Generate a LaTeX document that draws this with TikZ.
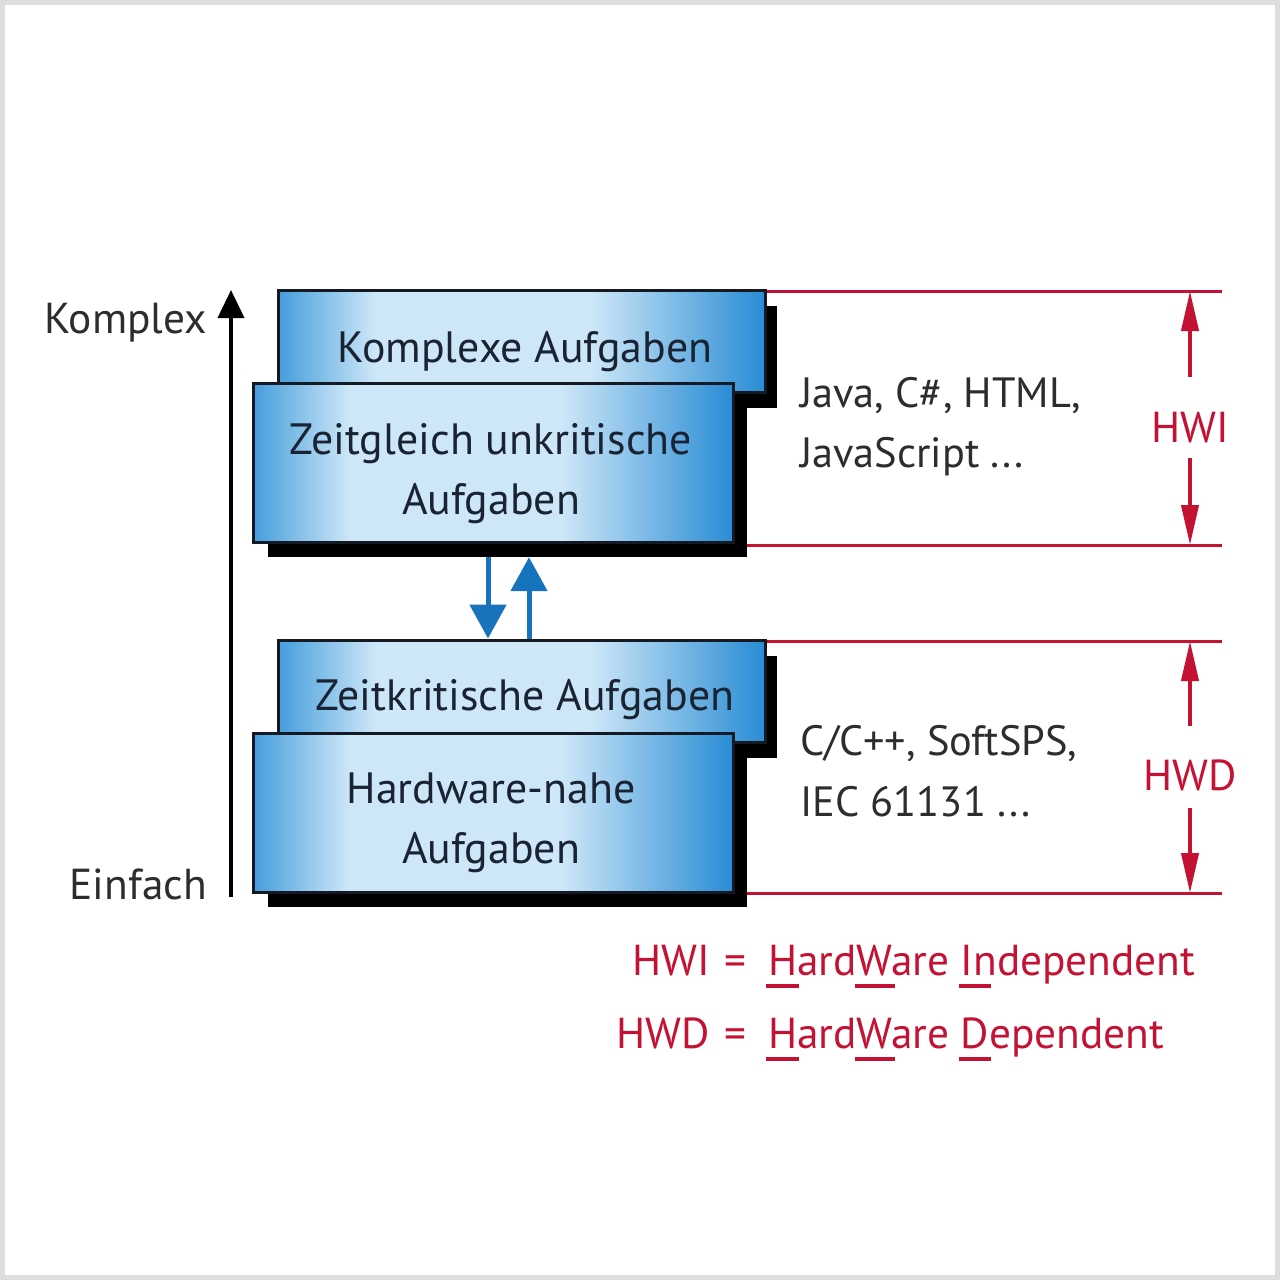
\documentclass[tikz,border=0pt]{standalone}
\usepackage{fontspec}
\setmainfont{PT Sans}
\usetikzlibrary{arrows.meta}
\definecolor{hwred}{RGB}{196,18,52}
\definecolor{txtdark}{RGB}{45,45,45}
\definecolor{boxtxt}{RGB}{25,35,50}
\definecolor{boxline}{RGB}{20,25,35}
\definecolor{bL}{RGB}{70,158,220}
\definecolor{bM}{RGB}{206,231,248}
\definecolor{bR}{RGB}{40,140,212}
\definecolor{arrblue}{RGB}{22,115,188}
\definecolor{framegray}{RGB}{222,222,222}
\pgfdeclarehorizontalshading{boxshade}{100bp}{color(0bp)=(bL); color(25bp)=(bL); color(35bp)=(bM); color(57bp)=(bM); color(75bp)=(bR); color(100bp)=(bR)}
\newlength\ulw
\newcommand\mku[2]{\settowidth\ulw{#1}\addtolength\ulw{0.1em}\leavevmode\rlap{\kern-0.05em\rule[-0.3em]{\ulw}{0.09em}}#2}
\tikzset{
  taskbox/.style={draw=boxline, line width=3bp, shading=boxshade, inner sep=0pt},
  shadowbox/.style={fill=black, draw=none, inner sep=0pt},
  boxlabel/.style={anchor=base, text=boxtxt, font=\fontsize{44}{52}\selectfont, inner sep=0pt},
  sidelabel/.style={anchor=base west, text=txtdark, font=\fontsize{42.5}{50}\selectfont, inner sep=0pt},
  axislabel/.style={anchor=base east, text=txtdark, font=\fontsize{43.5}{50}\selectfont, inner sep=0pt},
  redlabel/.style={anchor=base, text=hwred, font=\fontsize{43.5}{50}\selectfont, inner sep=0pt},
  redline/.style={draw=hwred, line width=3bp},
  redarrow/.style={draw=hwred, line width=4bp, -{Triangle[width=17bp,length=40bp]}},
  bluearrow/.style={draw=arrblue, line width=5bp, -{Triangle[width=36bp,length=34bp]}},
  axisarrow/.style={draw=black, line width=4bp, -{Triangle[width=26bp,length=28bp]}},
}
\begin{document}
\begin{tikzpicture}[x=1bp,y=-1bp]
\useasboundingbox (0,0) rectangle (1280,1280);
\fill[white] (0,0) rectangle (1280,1280);
\draw[framegray, line width=5bp] (2.5,2.5) rectangle (1277.5,1277.5);

% upper group
\node[shadowbox, minimum width=486bp, minimum height=102bp] (s1) at (534,357) {};
\node[taskbox, minimum width=486bp, minimum height=102bp] (b1) at (522,341) {};
\node[shadowbox, minimum width=479bp, minimum height=159bp] (s2) at (507.5,477.5) {};
\node[taskbox, minimum width=479bp, minimum height=159bp] (b2) at (493.5,462.5) {};
\node[boxlabel] (t1) at (525,362) {Komplexe Aufgaben};
\node[boxlabel] (t2a) at (491,454) {Zeitgleich unkritische};
\node[boxlabel] (t2b) at (491,514) {Aufgaben};

% lower group
\node[shadowbox, minimum width=486bp, minimum height=102bp] (s3) at (534,707) {};
\node[taskbox, minimum width=486bp, minimum height=102bp] (b3) at (522,691) {};
\node[shadowbox, minimum width=479bp, minimum height=159bp] (s4) at (507.5,827.5) {};
\node[taskbox, minimum width=479bp, minimum height=159bp] (b4) at (493.5,812.5) {};
\node[boxlabel] (t3) at (525,710) {Zeitkritische Aufgaben};
\node[boxlabel] (t4a) at (491,803) {Hardware-nahe};
\node[boxlabel] (t4b) at (491,863) {Aufgaben};

% blue arrows between groups
\coordinate (xd) at (488,0);
\coordinate (xu) at (529,0);
\draw[bluearrow] (s2.south -| xd) -- (b3.north -| xd);
\draw[bluearrow] (b3.north -| xu) -- (s2.south -| xu);

% complexity axis
\node[axislabel] (komplex) at (207,333) {Komplex};
\node[axislabel] (einfach) at (207,899) {Einfach};
\coordinate (axbot) at (231,897);
\coordinate (axtop) at (231,290);
\draw[axisarrow] (axbot) -- (axtop);

% language labels
\node[sidelabel] (java1) at (800,407) {Java, C\#, HTML,};
\node[sidelabel] (java2) at (800,467) {JavaScript ...};
\node[sidelabel] (cc1) at (800,755) {C/C++, SoftSPS,};
\node[sidelabel] (cc2) at (800,816) {IEC 61131 ...};

% red dimension lines
\coordinate (r1) at (1222,291);
\coordinate (r2) at (1222,545);
\coordinate (r3) at (1222,641);
\coordinate (r4) at (1222,893);
\draw[redline] (r1 -| b1.east) -- (r1);
\draw[redline] (r2 -| s2.east) -- (r2);
\draw[redline] (r3 -| b3.east) -- (r3);
\draw[redline] (r4 -| s4.east) -- (r4);

\node[redlabel] (hwi) at (1190,442) {HWI};
\node[redlabel] (hwd) at (1190,790) {HWD};
\coordinate (a1) at (1190,377);
\coordinate (a2) at (1190,458);
\coordinate (a3) at (1190,726);
\coordinate (a4) at (1190,808);
\draw[redarrow] (a1) -- (r1 -| a1);
\draw[redarrow] (a2) -- (r2 -| a2);
\draw[redarrow] (a3) -- (r3 -| a3);
\draw[redarrow] (a4) -- (r4 -| a4);

% legend
\node[redlabel, anchor=base east] (lg1a) at (710,975) {HWI};
\node[redlabel] (lg1b) at (735,975) {=};
\node[redlabel, anchor=base west] (lg1c) at (768,975) {\mku{H}{H}ard\mku{W}{W}are \mku{D}{I}ndependent};
\node[redlabel, anchor=base east] (lg2a) at (710,1048) {HWD};
\node[redlabel] (lg2b) at (735,1048) {=};
\node[redlabel, anchor=base west] (lg2c) at (768,1048) {\mku{H}{H}ard\mku{W}{W}are \mku{D}{D}ependent};
\end{tikzpicture}
\end{document}
